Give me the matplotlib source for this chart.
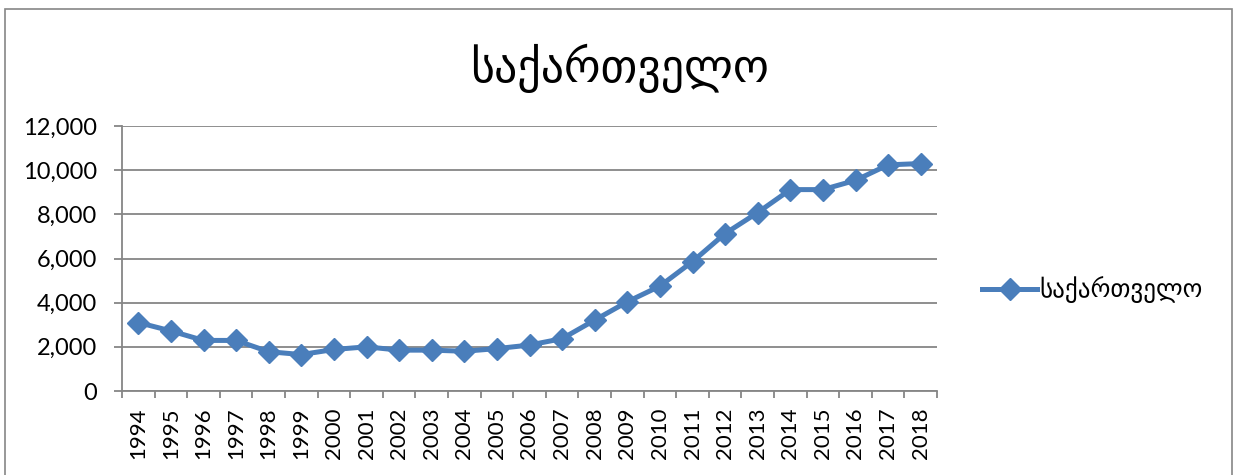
import matplotlib.pyplot as plt
import matplotlib.patches as mpatches
from matplotlib.ticker import FuncFormatter, MultipleLocator

# data
years = ['1994', '1995', '1996', '1997', '1998', '1999', '2000', '2001', '2002',
         '2003', '2004', '2005', '2006', '2007', '2008', '2009', '2010', '2011',
         '2012', '2013', '2014', '2015', '2016', '2017', '2018']
values = [3100, 2720, 2290, 2290, 1780, 1650, 1880, 2000, 1850,
          1850, 1800, 1920, 2080, 2370, 3210, 4040, 4750, 5860,
          7130, 8080, 9120, 9120, 9540, 10240, 10300]
series_name = 'საქართველო'
title_text = 'საქართველო'

fonts = ['Lato', 'DejaVu Sans']
line_color = '#4A7EBB'
grid_color = '#868686'

fig = plt.figure(figsize=(12.36, 4.75), dpi=100)
ax = fig.add_axes([122 / 1236, 1 - 391 / 475, (937 - 122) / 1236, (391 - 126) / 475])

# outer chart border (bottom runs off the image)
fig.patches.append(mpatches.Rectangle((5 / 1236, -0.05), (1232 - 5) / 1236, 1.05 - 9 / 475,
                                      transform=fig.transFigure, fill=False,
                                      edgecolor=grid_color, linewidth=1.2))

x = range(len(years))
ax.plot(x, values, color=line_color, linewidth=3.6, marker='D', markersize=11,
        label=series_name, zorder=3)

ax.set_xlim(-0.5, len(years) - 0.5)
ax.set_ylim(0, 12000)
ax.yaxis.set_major_locator(MultipleLocator(2000))
ax.yaxis.set_major_formatter(FuncFormatter(lambda v, p: f'{int(v):,}'))
ax.grid(axis='y', color=grid_color, linewidth=1.3)
ax.set_axisbelow(True)

ax.set_xticks(list(x))
ax.set_xticklabels(years, rotation=90, fontsize=16, family=fonts)
ax.set_xticks([i - 0.5 for i in range(len(years) + 1)], minor=True)
ax.tick_params(axis='x', which='major', length=0, pad=12)
ax.tick_params(axis='x', which='minor', length=5, color=grid_color, width=1.3)
ax.tick_params(axis='y', length=6, color=grid_color, width=1.3, labelsize=17, pad=12)
for lbl in ax.get_yticklabels():
    lbl.set_family(fonts)

for side in ['top', 'right']:
    ax.spines[side].set_visible(False)
for side in ['left', 'bottom']:
    ax.spines[side].set_color(grid_color)
    ax.spines[side].set_linewidth(1.3)

fig.text(620 / 1236, 1 - 68 / 475, title_text, ha='center', va='center',
         fontsize=33, family=fonts, fontweight='medium')

leg = fig.legend(loc='center left', bbox_to_anchor=(972 / 1236, 1 - 290 / 475),
                 frameon=False, prop={'family': fonts, 'size': 18},
                 handlelength=2.2, handletextpad=0.1, borderaxespad=0)

fig.savefig('out.png', dpi=100)
